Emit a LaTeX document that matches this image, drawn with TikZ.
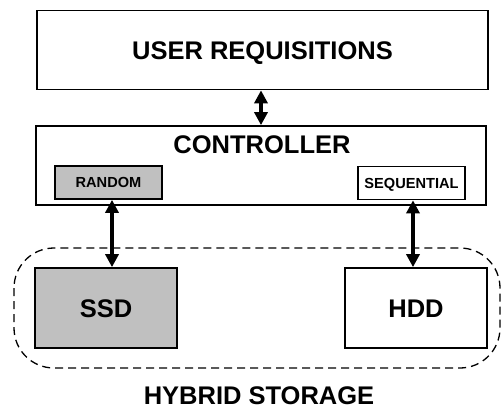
\documentclass[tikz,border=0pt]{standalone}
\usepackage{fontspec}
\setmainfont{Liberation Sans}
\usetikzlibrary{arrows.meta}
\definecolor{boxgray}{HTML}{C0C0C0}
\tikzset{
  bigcaps/.style={text height=18.3pt, text depth=0pt, font=\bfseries\fontsize{25.5}{28}\selectfont},
  smallcaps/.style={text height=10.5pt, text depth=0pt, font=\bfseries\fontsize{14.6}{16}\selectfont},
  unitbox/.style={draw=black, line width=1.7pt, inner sep=0pt, bigcaps},
  tagbox/.style={draw=black, line width=1.7pt, inner sep=0pt, smallcaps},
  link/.style={line width=4pt, {Triangle[length=13pt,width=13pt]}-{Triangle[length=13pt,width=13pt]}},
  bigtext/.style={inner sep=0pt, bigcaps}
}
\begin{document}
\begin{tikzpicture}[x=1pt, y=-1pt]
  \useasboundingbox (0,0) rectangle (501,410);

  % hybrid storage enclosure
  \draw[line width=1.3pt, dash pattern=on 8pt off 5pt, rounded corners=40pt]
    (14,248) rectangle (500,368);

  % top level
  \node[unitbox, minimum width=451pt, minimum height=79pt] (user) at (262.5,50) {USER REQUISITIONS};

  % controller with its two policies
  \node[draw=black, line width=1.7pt, minimum width=450pt, minimum height=79pt, inner sep=0pt] (ctrl) at (261,165.5) {};
  \node[bigtext] (ctrltxt) at (262,144) {CONTROLLER};
  \node[tagbox, fill=boxgray, minimum width=107pt, minimum height=33pt] (rnd) at (108.5,182.5) {RANDOM};
  \node[tagbox, fill=white, minimum width=107pt, minimum height=33pt] (seq) at (411.5,183) {SEQUENTIAL};

  % storage devices
  \node[unitbox, fill=boxgray, minimum width=142pt, minimum height=80pt] (ssd) at (106,308) {SSD};
  \node[unitbox, fill=white, minimum width=142pt, minimum height=80pt] (hdd) at (416,308) {HDD};

  \node[bigtext] (hybrid) at (259,395.5) {HYBRID STORAGE};

  % connectors
  \draw[link] (user.south -| 261,0) -- (ctrl.north -| 261,0);
  \draw[link] (rnd.south -| 112,0) -- (ssd.north -| 112,0);
  \draw[link] (seq.south -| 413,0) -- (hdd.north -| 413,0);
\end{tikzpicture}
\end{document}
